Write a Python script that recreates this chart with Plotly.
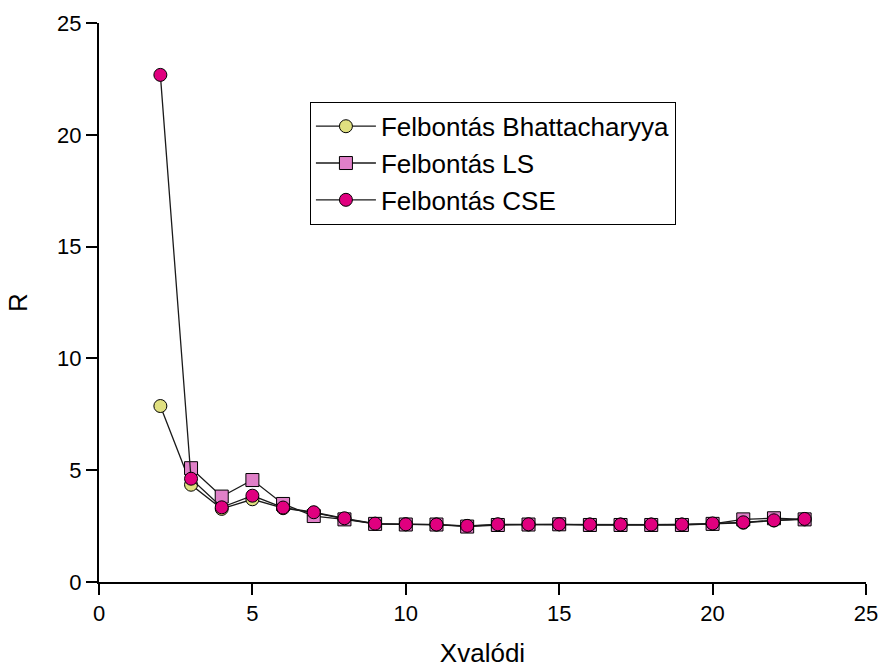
import plotly.graph_objects as go

x_vals = list(range(2, 24))
bhatt = [7.87, 4.35, 3.27, 3.70, 3.30, 3.10, 2.82, 2.60, 2.58, 2.57, 2.50, 2.57,
         2.57, 2.58, 2.57, 2.57, 2.57, 2.57, 2.60, 2.65, 2.75, 2.80]
ls = [None, 5.09, 3.82, 4.56, 3.49, 2.95, 2.80, 2.60, 2.57, 2.57, 2.48, 2.55,
      2.57, 2.58, 2.55, 2.55, 2.55, 2.55, 2.60, 2.80, 2.85, 2.80]
cse = [22.68, 4.62, 3.34, 3.86, 3.33, 3.12, 2.85, 2.61, 2.58, 2.57, 2.51, 2.58,
       2.58, 2.58, 2.57, 2.57, 2.57, 2.57, 2.62, 2.67, 2.76, 2.82]
minor_ticks = [2.5, 7.5, 12.5, 17.5, 22.5]

names = ["Felbontás Bhattacharyya", "Felbontás LS", "Felbontás CSE"]
series = [bhatt, ls, cse]
colors = ["#E0E080", "#E080C8", "#E0007F"]
symbols = ["circle", "square", "circle"]

fig = go.Figure()
for name, ys, col, sym in zip(names, series, colors, symbols):
    fig.add_trace(go.Scatter(
        x=x_vals, y=ys, name=name, mode="lines+markers",
        line=dict(color="#1a1a1a", width=1.3),
        marker=dict(symbol=sym, size=13, color=col,
                    line=dict(color="#000000", width=1)),
    ))

font_family = "Liberation Sans, Arial, sans-serif"
axis_common = dict(
    range=[0, 25], dtick=5, tick0=0,
    showline=True, linecolor="black", linewidth=2,
    ticks="outside", ticklen=11, tickwidth=2, tickcolor="black",
    showgrid=False, zeroline=False, mirror=False, automargin=False,
    tickfont=dict(family=font_family, size=22, color="black"),
)
minor_common = dict(
    range=[0, 25], tickmode="array", tickvals=minor_ticks,
    ticks="outside", ticklen=6, tickwidth=2, tickcolor="black",
    showticklabels=False, showline=False, showgrid=False, zeroline=False,
    automargin=False,
)

fig.update_layout(
    width=880, height=668,
    margin=dict(l=99, r=14, t=23, b=86),
    plot_bgcolor="white", paper_bgcolor="white",
    font=dict(family=font_family, color="black"),
    xaxis=dict(title=dict(text="Xvalódi", font=dict(size=26), standoff=22), **axis_common),
    yaxis=dict(title=dict(text="R", font=dict(size=26), standoff=22), **axis_common),
    xaxis2=dict(overlaying="x", side="bottom", anchor="y", **minor_common),
    yaxis2=dict(overlaying="y", side="left", anchor="x", **minor_common),
    showlegend=True,
    legend=dict(
        x=0.275, y=0.859, xanchor="left", yanchor="top",
        bordercolor="black", borderwidth=1, bgcolor="white",
        font=dict(size=26, family=font_family),
        itemwidth=60, tracegroupgap=0,
    ),
)

fig.write_html("out.html")
